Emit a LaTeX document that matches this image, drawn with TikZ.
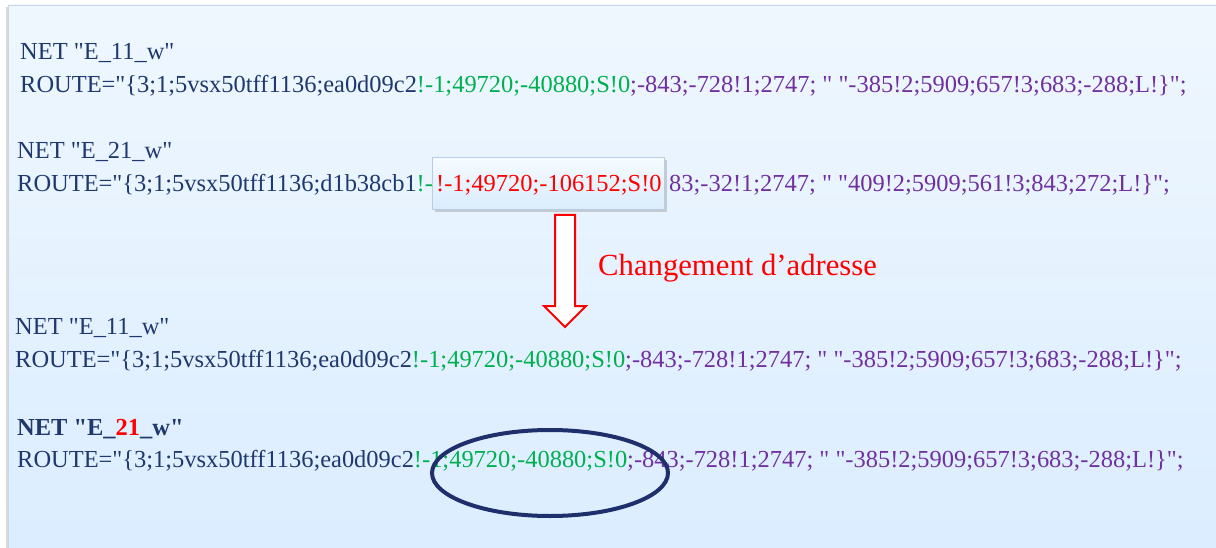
\documentclass[tikz,border=0pt]{standalone}
\usepackage{fontspec}
\setmainfont{Liberation Serif}[Ligatures=TeXOff]
\usetikzlibrary{shadows}
\definecolor{txtblue}{RGB}{31,56,110}
\definecolor{grn}{RGB}{0,176,80}
\definecolor{purp}{RGB}{112,48,160}
\definecolor{rd}{RGB}{255,0,0}
\definecolor{navy}{RGB}{31,47,107}
\definecolor{bgtop}{RGB}{239,247,254}
\definecolor{bgbot}{RGB}{219,237,255}
\definecolor{boxtop}{RGB}{246,251,255}
\definecolor{boxbot}{RGB}{218,236,253}
\definecolor{boxborder}{RGB}{184,204,228}
\definecolor{panelborder}{RGB}{200,214,232}
\begin{document}
\begin{tikzpicture}[x=1pt,y=-1pt,
  txt/.style={anchor=base west, inner sep=0pt, font=\fontsize{24.45}{28}\selectfont, text=txtblue},
  bigtxt/.style={anchor=base west, inner sep=0pt, font=\fontsize{30.7}{34}\selectfont, text=rd},
  popbox/.style={draw=boxborder, line width=1pt, top color=boxtop, bottom color=boxbot,
    drop shadow={shadow xshift=2pt, shadow yshift=-3pt, opacity=0.35},
    minimum width=232pt, minimum height=52pt, inner sep=0pt, anchor=north west},
  hollowarrow/.style={draw=rd, line width=2pt, fill=white, line join=miter},
  circmark/.style={draw=navy, line width=4pt}]
\useasboundingbox (0,0) rectangle (1216,548);
\fill[white] (0,0) rectangle (1216,548);
\shade[top color=bgtop, bottom color=bgbot] (8,5) rectangle (1216,548);
\fill[black!15] (6,7) rectangle (9,548);
\draw[panelborder, line width=1pt] (8.5,548) -- (8.5,5.5) -- (1216,5.5);

% block 1
\node[txt] (n1) at (20,60) {NET "E\_11\_w"};
\node[txt] (r1) at (20,93) {ROUTE="\{3;1;5vsx50tff1136;ea0d09c2\textcolor{grn}{!-1;49720;-40880;S!0}\textcolor{purp}{;-843;-728!1;2747; " "-385!2;5909;657!3;683;-288;L!\}";}};

% block 2
\node[txt] (n2) at (17,159) {NET "E\_21\_w"};
\node[txt] (r2) at (17,192) {ROUTE="\{3;1;5vsx50tff1136;d1b38cb1\textcolor{grn}{!-}};
\node[txt, text=purp] (r2b) at (669,192) {83;-32!1;2747; " "409!2;5909;561!3;843;272;L!\}";};
\node[popbox] (box) at (432,157) {};
\node[txt, text=rd] (boxtxt) at (436,192) {!-1;49720;-106152;S!0};

% arrow
\draw[hollowarrow] (555,215) -- (575,215) -- (575,306) -- (586,306) -- (565,327) -- (544,306) -- (555,306) -- cycle;
\node[bigtxt] (lbl) at (598,276) {Changement d’adresse};

% block 3
\node[txt] (n3) at (15,334) {NET "E\_11\_w"};
\node[txt] (r3) at (15,367) {ROUTE="\{3;1;5vsx50tff1136;ea0d09c2\textcolor{grn}{!-1;49720;-40880;S!0}\textcolor{purp}{;-843;-728!1;2747; " "-385!2;5909;657!3;683;-288;L!\}";}};

% block 4
\node[txt, font=\fontsize{24.45}{28}\selectfont\bfseries] (n4) at (17,435) {NET "E\_\textcolor{rd}{21}\_w"};
\node[txt] (r4) at (17,467) {ROUTE="\{3;1;5vsx50tff1136;ea0d09c2\textcolor{grn}{!-1;49720;-40880;S!0}\textcolor{purp}{;-843;-728!1;2747; " "-385!2;5909;657!3;683;-288;L!\}";}};

\draw[circmark] (550,473) ellipse [x radius=118, y radius=43];
\end{tikzpicture}
\end{document}
